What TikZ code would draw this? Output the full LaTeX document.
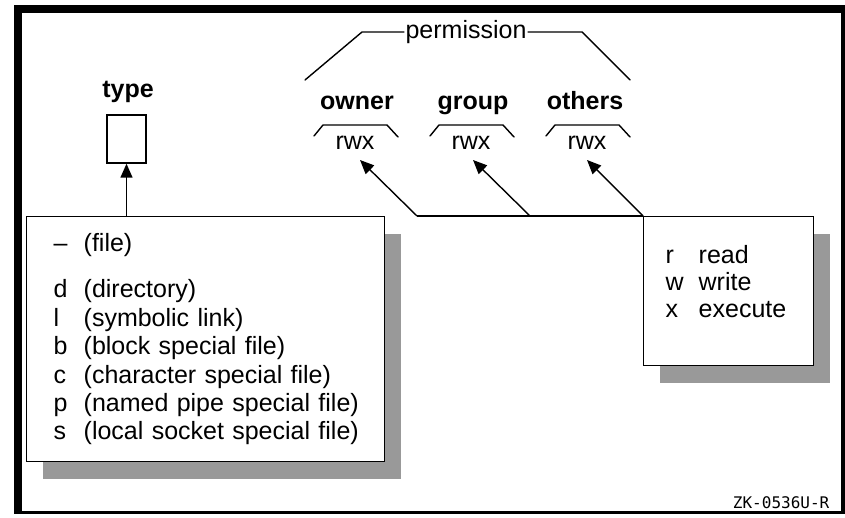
\documentclass[tikz,border=0pt]{standalone}
\usepackage{fontspec}
\setmainfont{Liberation Sans}
\newfontfamily\codefont{DejaVu Sans Mono}
\usetikzlibrary{arrows.meta,shadows}
\tikzset{
>={Triangle[length=14pt,width=12pt]},
box node/.style={draw,fill=white,anchor=north west,align=left,
  drop shadow={shadow xshift=16pt,shadow yshift=-17pt,fill=black!40,opacity=1}},
title node/.style={font=\fontsize{25}{30}\selectfont\bfseries,inner sep=0pt,anchor=base},
bits node/.style={inner sep=0pt,anchor=base},
pointer/.style={->},
bracket/.style={line cap=round}}
\newcommand{\riga}[3][30pt]{\makebox[#1][l]{#2}\mbox{#3}}

\begin{document}
\begin{tikzpicture}[x=1pt,y=-1pt,line width=1.4pt,font=\fontsize{25}{28.4}\selectfont]

\useasboundingbox (0,0) rectangle (845,518);

% frame
\fill (14,5) rectangle (845,13);
\fill (14,5) rectangle (22,514);
\fill (14,511) rectangle (845,514);
\fill (841,5) rectangle (845,514);

% file type
\node[title node] (type) at (128,98) {type};
\node[draw,minimum width=39pt,minimum height=48pt,inner sep=0pt] (typebox) at (126.5,139) {};

\node[box node,minimum width=358pt,minimum height=245pt,inner xsep=27pt,text width=304pt] (kinds) at (26,216)
  {\riga{–}{(file)}\\[18pt]
   \riga{d}{(directory)}\\
   \riga{l}{(symbolic link)}\\
   \riga{b}{(block special file)}\\
   \riga{c}{(character special file)}\\
   \riga{p}{(named pipe special file)}\\
   \riga{s}{(local socket special file)}};

\draw[pointer] (kinds.north -| typebox.south) -- (typebox.south);

% permission
\node[inner sep=1pt] (perm) at (466,32) {permission};
\draw[bracket] (305,80) -- (362,32) -- (perm.west);
\draw[bracket] (perm.east) -- (582,32) -- (630,80);

\foreach \who/\x/\b in {owner/357/355, group/473/471, others/585/587} {
  \node[title node] (\who) at (\x,110) {\who};
  \node[bits node] (rwx \who) at (\b,150) {rwx};
  \draw[bracket] (\b-41,136) -- (\b-32,125) -- (\b+32,125) -- (\b+43,137);
}

\node[box node,minimum width=170pt,minimum height=149pt,inner xsep=22pt,text width=126pt,
  font=\fontsize{25}{27}\selectfont] (modes) at (643,216)
  {\riga[33pt]{r}{read}\\
   \riga[33pt]{w}{write}\\
   \riga[33pt]{x}{execute}\\[-8pt]\mbox{}};

\coordinate (fork o) at (417,216);
\coordinate (fork g) at (530,216);
\coordinate (tip o) at (360,160);
\coordinate (tip g) at (473,160);
\coordinate (tip t) at (587,160);

\draw (fork o) -- (modes.north west);
\draw[pointer] (fork o) -- (tip o);
\draw[pointer] (fork g) -- (tip g);
\draw[pointer] (modes.north west) -- (tip t);

\node[font=\codefont\fontsize{16}{18}\selectfont,anchor=east,inner sep=0pt] (code) at (830,503) {ZK-0536U-R};

\end{tikzpicture}
\end{document}
